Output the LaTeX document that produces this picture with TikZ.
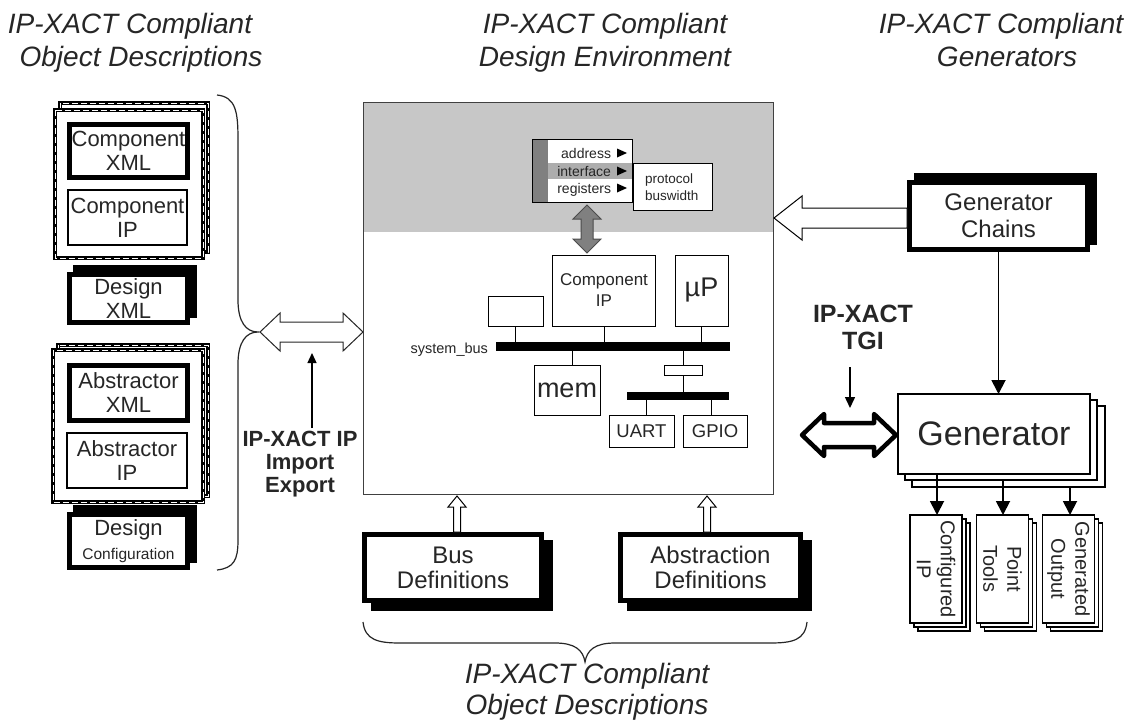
\documentclass[tikz,border=0pt]{standalone}
\usepackage{fontspec}
\setmainfont{Liberation Sans}
\usetikzlibrary{arrows.meta,calc}
\newcommand\fs[2]{\fontsize{#1}{#2}\selectfont}
% horizontal double arrow: style, xa, xb, y, shaft half, head half, head length
\newcommand\hdbl[7]{\draw[#1] (#2,#4) -- ({#2+#7},{#4-#6}) -- ({#2+#7},{#4-#5}) -- ({#3-#7},{#4-#5}) -- ({#3-#7},{#4-#6}) -- (#3,#4) -- ({#3-#7},{#4+#6}) -- ({#3-#7},{#4+#5}) -- ({#2+#7},{#4+#5}) -- ({#2+#7},{#4+#6}) -- cycle;}
% vertical double arrow: style, x, ya, yb, shaft half, head half, head length
\newcommand\vdbl[7]{\draw[#1] (#2,#3) -- ({#2+#6},{#3+#7}) -- ({#2+#5},{#3+#7}) -- ({#2+#5},{#4-#7}) -- ({#2+#6},{#4-#7}) -- (#2,#4) -- ({#2-#6},{#4-#7}) -- ({#2-#5},{#4-#7}) -- ({#2-#5},{#3+#7}) -- ({#2-#6},{#3+#7}) -- cycle;}
% left pointing single arrow: style, tipx, tailx, y, s, h, L
\newcommand\lsgl[7]{\draw[#1] (#2,#4) -- ({#2+#7},{#4-#6}) -- ({#2+#7},{#4-#5}) -- (#3,{#4-#5}) -- (#3,{#4+#5}) -- ({#2+#7},{#4+#5}) -- ({#2+#7},{#4+#6}) -- cycle;}
% up pointing single arrow: style, x, tipy, taily, s, h, L
\newcommand\usgl[7]{\draw[#1] (#2,#3) -- ({#2+#6},{#3+#7}) -- ({#2+#5},{#3+#7}) -- ({#2+#5},#4) -- ({#2-#5},#4) -- ({#2-#5},{#3+#7}) -- ({#2-#6},{#3+#7}) -- cycle;}
\newcommand\dframe[2]{\fill[white] #1 rectangle #2; \draw[line width=3.5pt] #1 rectangle #2; \draw[white, line width=0.7pt, dash pattern=on 6pt off 3pt] #1 rectangle #2;}
\tikzset{
  every node/.style={inner sep=0pt, outer sep=0pt, text=black!85},
  title/.style={font=\itshape\fs{28}{30}, anchor=base},
  lb/.style={font=\fs{22}{24}, align=center},
  thickbox/.style={draw, line width=5pt, fill=white},
  thinbox/.style={draw, line width=1.5pt, fill=white},
  envbox/.style={draw, line width=1pt, fill=white},
  outbox/.style={draw, line width=1.6pt, fill=white},
  conn/.style={line width=1pt},
  arr/.style={line width=1.8pt, -{Triangle[length=14pt,width=14pt]}},
  brace/.style={line width=1.2pt, black!85},
}
\begin{document}
\begin{tikzpicture}[x=1pt, y=-1pt]
\useasboundingbox (0,0) rectangle (1142,720);
\fill[white] (0,0) rectangle (1142,720);

% ---------- titles
\node[title] (tl1) at (130,33) {IP-XACT Compliant};
\node[title] (tl2) at (141,66) {Object Descriptions};
\node[title] (tc1) at (605,33) {IP-XACT Compliant};
\node[title] (tc2) at (605,66) {Design Environment};
\node[title] (tr1) at (1001,33) {IP-XACT Compliant};
\node[title] (tr2) at (1007,66) {Generators};
\node[title] (tb1) at (587,683) {IP-XACT Compliant};
\node[title] (tb2) at (587,714) {Object Descriptions};

% ---------- left group 1
\dframe{(60,103)}{(208,252)}
\dframe{(55,110)}{(203,258)}
\node[thickbox, lb, minimum width=118, minimum height=53] (cxml) at (128.5,151) {Component\\XML};
\node[thinbox, lb, minimum width=119, minimum height=55] (cip) at (127.5,217.5) {Component\\IP};
\fill (73,265) rectangle (197,318);
\node[thickbox, lb, minimum width=118, minimum height=48] (dxml) at (128.5,298.5) {Design\\XML};

% ---------- left group 2
\dframe{(58,345)}{(208,496)}
\dframe{(53,350)}{(203,502)}
\node[thickbox, lb, minimum width=118, minimum height=55] (axml) at (128.5,393) {Abstractor\\XML};
\node[thinbox, lb, minimum width=120, minimum height=55] (aip) at (127,460.5) {Abstractor\\IP};
\fill (73,505) rectangle (197,563);
\node[thickbox, lb, minimum width=118, minimum height=53] (dcfg) at (128.5,541) {Design\\{\fs{15.5}{18}Configuration}};

% ---------- left brace
\draw[brace] (217,95) .. controls (236,97) and (238,112) .. (238,140) -- (238,300)
  .. controls (238,322) and (246,332) .. (258,332)
  .. controls (246,332) and (238,342) .. (238,364) -- (238,540)
  .. controls (238,560) and (234,568) .. (217,570);

% ---------- main environment box
\fill[black!22] (363,102) rectangle (773,232);
\node[draw=black!75, line width=1pt, minimum width=410, minimum height=392, anchor=north west] (env) at (363,102) {};

% menu widget
\node[draw, fill=white, line width=1pt, minimum width=100, minimum height=63, anchor=north west] (menu) at (532,139) {};
\fill[black!50] (532,139) rectangle (548,202);
\fill[black!32] (548,163) rectangle (632,179);
\draw[line width=1pt] (532,139) rectangle (632,202);
\node[anchor=base east, font=\fs{14}{16}] (maddr) at (611,158) {address};
\node[anchor=base east, font=\fs{14}{16}] (mintf) at (611,176) {interface};
\node[anchor=base east, font=\fs{14}{16}] (mregs) at (611,193) {registers};
\fill (617,148.5) -- (627,153) -- (617,157.5) -- cycle;
\fill (617,166.5) -- (627,171) -- (617,175.5) -- cycle;
\fill (617,183.5) -- (627,188) -- (617,192.5) -- cycle;
\node[draw, fill=white, line width=1pt, minimum width=79, minimum height=47, anchor=north west] (sub) at (633,163) {};
\node[anchor=west, align=left, font=\fs{13.5}{17}] (subt) at (645,187) {protocol\\buswidth};

% gray interface arrow
\vdbl{fill=black!50, draw=black!70, line width=1pt}{587}{205}{253}{6}{14}{14}

% components
\node[envbox, minimum width=103, minimum height=71, font=\fs{17}{21}, align=center] (mcip) at (604,290.5) {Component\\IP};
\node[envbox, minimum width=53, minimum height=71, font=\fs{27}{30}] (mup) at (701.5,290.5) {µP};
\node[envbox, minimum width=55, minimum height=30] (sbox) at (515.5,311) {};
\node[fill=black, minimum width=234, minimum height=9] (bus) at (613,346.5) {};
\node[anchor=east, font=\fs{14.5}{16}] (sbl) at (488,350) {system\_bus};
\node[envbox, minimum width=66, minimum height=50, font=\fs{27}{30}] (mem) at (567,390) {mem};
\node[envbox, minimum width=38, minimum height=10] (brg) at (683,370) {};
\node[fill=black, minimum width=102, minimum height=8] (bus2) at (678,396) {};
\node[envbox, minimum width=65, minimum height=32, font=\fs{18.5}{20}] (uart) at (641.5,431) {UART};
\node[envbox, minimum width=64, minimum height=32, font=\fs{18.5}{20}] (gpio) at (715,431) {GPIO};
\coordinate (memc) at ($(mem.north)+(5,0)$);
\coordinate (uartc) at ($(uart.north)+(4.5,0)$);
\coordinate (gpioc) at ($(gpio.north)+(-4,0)$);
\draw[conn] (sbox.south) -- (sbox.south |- bus.north);
\draw[conn] (mcip.south) -- (mcip.south |- bus.north);
\draw[conn] (mup.south) -- (mup.south |- bus.north);
\draw[conn] (memc) -- (memc |- bus.south);
\draw[conn] (brg.north) -- (brg.north |- bus.south);
\draw[conn] (brg.south) -- (brg.south |- bus2.north);
\draw[conn] (uartc) -- (uartc |- bus2.south);
\draw[conn] (gpioc) -- (gpioc |- bus2.south);

% ---------- import/export
\hdbl{fill=white, draw=black!85, line width=1pt}{260}{363}{332}{10}{19}{20}
\node[font=\bfseries\fs{22}{23}, align=center] (ipl) at (300,464) {IP-XACT IP\\Import\\Export};
\coordinate (ipa) at (312,428);
\coordinate (ipb) at (312,353);
\draw[line width=1.3pt, -{Triangle[length=10pt,width=9pt]}] (ipa) -- (ipb);

% ---------- bottom definition boxes
\fill (371,540) rectangle (553,611);
\node[thickbox, font=\fs{24}{25}, align=center, minimum width=177, minimum height=66] (busdef) at (453,567.5) {Bus\\Definitions};
\fill (627,540) rectangle (812,611);
\node[thickbox, font=\fs{24}{25}, align=center, minimum width=180, minimum height=66] (absdef) at (710.5,567.5) {Abstraction\\Definitions};
\usgl{fill=white, draw=black, line width=1pt}{457}{496}{532}{3.5}{9}{11}
\usgl{fill=white, draw=black, line width=1pt}{707}{496}{532}{3.5}{9}{11}

% bottom brace
\draw[brace] (363,622) .. controls (365,640) and (378,643) .. (400,643) -- (555,643)
  .. controls (575,643) and (583,650) .. (585,662)
  .. controls (587,650) and (595,643) .. (615,643) -- (770,643)
  .. controls (793,643) and (805,640) .. (807,622);

% ---------- generators
\fill (914,173) rectangle (1097,245);
\node[thickbox, font=\fs{24}{27}, align=center, minimum width=178, minimum height=67] (gc) at (998.5,216) {Generator\\Chains};
\lsgl{fill=white, draw=black, line width=1pt}{774}{907}{218}{10}{22}{28}

\draw[outbox] (912,406) rectangle (1105,487);
\draw[outbox] (905,400) rectangle (1097,480);
\node[outbox, minimum width=192, minimum height=80, font=\fs{34}{36}] (gen) at (994,434) {Generator};
\draw[arr] (gc.south) -- (gc.south |- gen.north);

\node[font=\bfseries\fs{25}{27}, align=center] (tgi) at (863,327) {IP-XACT\\TGI};
\coordinate (tgia) at (850,367);
\coordinate (tgib) at (850,408);
\draw[line width=1.5pt, -{Triangle[length=11pt,width=10pt]}] (tgia) -- (tgib);
\hdbl{fill=white, draw=black, line width=4.5pt, line join=round}{802}{896}{435}{12}{21}{22}

% outputs
\foreach \cx in {936,1002.5,1068.5} {
  \draw[outbox] (\cx-18,523) rectangle (\cx+34,631);
  \draw[outbox] (\cx-22,519) rectangle (\cx+30,627);
}
\node[outbox, rotate=-90, minimum width=108, minimum height=52, font=\fs{20}{24}, align=center] (cfgip) at (936,569) {Configured\\IP};
\node[outbox, rotate=-90, minimum width=108, minimum height=52, font=\fs{20}{24}, align=center] (ptools) at (1002.5,569) {Point\\Tools};
\node[outbox, rotate=-90, minimum width=108, minimum height=52, font=\fs{20}{24}, align=center] (genout) at (1068.5,569) {Generated\\Output};
\coordinate (o1) at (937,474);
\coordinate (o2) at (1003,480);
\coordinate (o3) at (1070,487);
\draw[arr] (o1) -- (o1 |- cfgip.west);
\draw[arr] (o2) -- (o2 |- ptools.west);
\draw[arr] (o3) -- (o3 |- genout.west);
\end{tikzpicture}
\end{document}
